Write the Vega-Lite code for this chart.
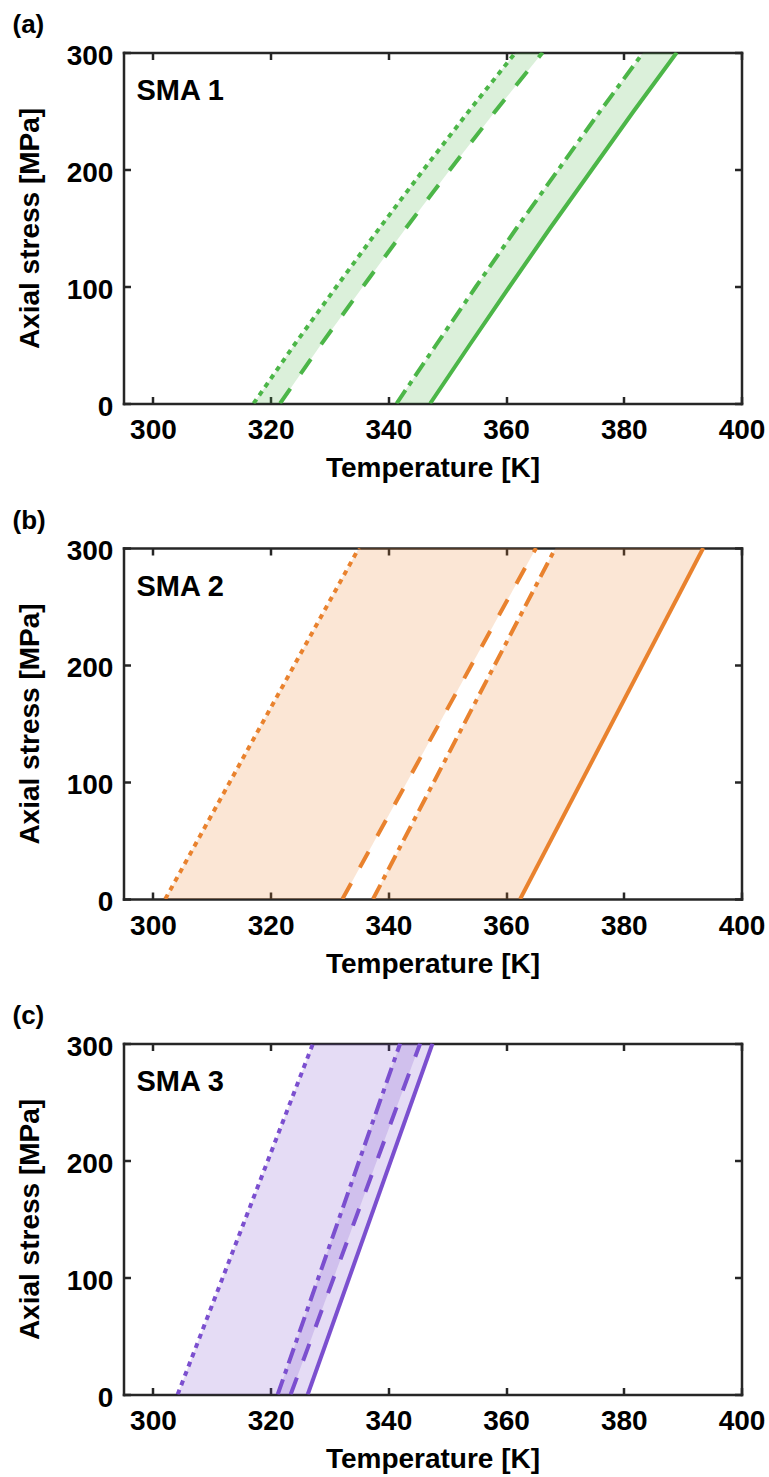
{
  "$schema": "https://vega.github.io/schema/vega-lite/v6.json",
  "background": "white",
  "padding": {"left": 12.5, "top": 11.5, "right": 5, "bottom": 5},
  "datasets": {
    "sma1": [
      {"stress": 0, "Mf": 317.1, "Ms": 321.6, "As": 341.4, "Af": 347.1},
      {"stress": 50, "Mf": 324.0, "Ms": 328.5, "As": 348.1, "Af": 353.8},
      {"stress": 100, "Mf": 331.2, "Ms": 335.7, "As": 354.9, "Af": 360.6},
      {"stress": 150, "Mf": 338.5, "Ms": 343.0, "As": 361.8, "Af": 367.5},
      {"stress": 200, "Mf": 346.0, "Ms": 350.5, "As": 368.9, "Af": 374.6},
      {"stress": 250, "Mf": 353.7, "Ms": 358.2, "As": 376.0, "Af": 381.7},
      {"stress": 300, "Mf": 361.6, "Ms": 366.2, "As": 383.3, "Af": 389.0}
    ],
    "sma2": [
      {"stress": 0, "Mf": 302.1, "Ms": 332.2, "As": 337.4, "Af": 362.4},
      {"stress": 300, "Mf": 335.0, "Ms": 365.1, "As": 368.4, "Af": 393.5}
    ],
    "sma3": [
      {"stress": 0, "Mf": 304.2, "Ms": 323.4, "As": 321.2, "Af": 326.3},
      {"stress": 300, "Mf": 327.2, "Ms": 345.4, "As": 342.0, "Af": 347.5}
    ]
  },
  "config": {
    "view": {"stroke": null},
    "font": "Liberation Sans",
    "concat": {"spacing": 24.5},
    "axis": {
      "grid": false,
      "domainColor": "#262626",
      "domainWidth": 2.5,
      "domainCap": "square",
      "tickColor": "#262626",
      "tickWidth": 2.5,
      "tickSize": -7,
      "labelFont": "Liberation Sans",
      "labelFontSize": 28,
      "labelFontWeight": "bold",
      "labelColor": "#000000",
      "labelFlush": false,
      "labelOverlap": false,
      "titleFont": "Liberation Sans",
      "titleFontSize": 28,
      "titleFontWeight": "bold",
      "titleColor": "#000000"
    },
    "title": {
      "anchor": "start",
      "frame": "group",
      "dx": -111,
      "fontSize": 26,
      "fontWeight": "bold",
      "font": "Liberation Sans",
      "color": "#000000",
      "offset": 4
    }
  },
  "vconcat": [
    {
      "width": 618, "height": 351,
      "title": {"text": "(a)"},
      "data": {"name": "sma1"},
      "resolve": {"axis": {"x": "independent", "y": "independent"}},
      "layer": [
        {"mark": {"type": "area", "orient": "horizontal", "color": "#4CB648", "opacity": 0.2, "clip": true},
         "encoding": {
           "y": {"field": "stress", "type": "quantitative", "scale": {"domain": [0, 300], "nice": false, "zero": false},
                 "axis": {"orient": "left", "values": [0, 100, 200, 300], "title": "Axial stress [MPa]", "labelPadding": 17.6, "labelOffset": 3.5, "titlePadding": 22}},
           "x": {"field": "Mf", "type": "quantitative", "scale": {"domain": [295, 400], "nice": false, "zero": false},
                 "axis": {"orient": "bottom", "values": [300, 320, 340, 360, 380, 400], "title": "Temperature [K]", "labelPadding": 20, "titlePadding": 10}},
           "x2": {"field": "Ms"}
         }},
        {"mark": {"type": "area", "orient": "horizontal", "color": "#4CB648", "opacity": 0.2, "clip": true},
         "encoding": {
           "y": {"field": "stress", "type": "quantitative", "scale": {"domain": [0, 300], "nice": false, "zero": false},
                 "axis": {"orient": "right", "values": [0, 100, 200, 300], "labels": false, "title": null}},
           "x": {"field": "As", "type": "quantitative", "scale": {"domain": [295, 400], "nice": false, "zero": false},
                 "axis": {"orient": "top", "values": [300, 320, 340, 360, 380, 400], "labels": false, "title": null}},
           "x2": {"field": "Af"}
         }},
        {"mark": {"type": "line", "color": "#4CB648", "strokeWidth": 4, "strokeCap": "butt", "strokeDash": [5, 5], "clip": true},
         "encoding": {
           "y": {"field": "stress", "type": "quantitative", "scale": {"domain": [0, 300], "nice": false, "zero": false}, "axis": null},
           "x": {"field": "Mf", "type": "quantitative", "scale": {"domain": [295, 400], "nice": false, "zero": false}, "axis": null},
           "order": {"field": "stress"}
         }},
        {"mark": {"type": "line", "color": "#4CB648", "strokeWidth": 4, "strokeCap": "butt", "strokeDash": [18, 18], "clip": true},
         "encoding": {
           "y": {"field": "stress", "type": "quantitative", "scale": {"domain": [0, 300], "nice": false, "zero": false}, "axis": null},
           "x": {"field": "Ms", "type": "quantitative", "scale": {"domain": [295, 400], "nice": false, "zero": false}, "axis": null},
           "order": {"field": "stress"}
         }},
        {"mark": {"type": "line", "color": "#4CB648", "strokeWidth": 4, "strokeCap": "butt", "strokeDash": [16, 6, 5, 6], "clip": true},
         "encoding": {
           "y": {"field": "stress", "type": "quantitative", "scale": {"domain": [0, 300], "nice": false, "zero": false}, "axis": null},
           "x": {"field": "As", "type": "quantitative", "scale": {"domain": [295, 400], "nice": false, "zero": false}, "axis": null},
           "order": {"field": "stress"}
         }},
        {"mark": {"type": "line", "color": "#4CB648", "strokeWidth": 4, "strokeCap": "butt", "clip": true},
         "encoding": {
           "y": {"field": "stress", "type": "quantitative", "scale": {"domain": [0, 300], "nice": false, "zero": false}, "axis": null},
           "x": {"field": "Af", "type": "quantitative", "scale": {"domain": [295, 400], "nice": false, "zero": false}, "axis": null},
           "order": {"field": "stress"}
         }},
        {"data": {"values": [{}]},
         "mark": {"type": "text", "text": "SMA 1", "align": "left", "baseline": "middle", "fontSize": 29, "fontWeight": "bold", "font": "Liberation Sans", "color": "#000000"},
         "encoding": {
           "x": {"datum": 297.2, "type": "quantitative", "scale": {"domain": [295, 400], "nice": false, "zero": false}, "axis": null},
           "y": {"datum": 267, "type": "quantitative", "scale": {"domain": [0, 300], "nice": false, "zero": false}, "axis": null}
         }}
      ]
    },
    {
      "width": 618, "height": 351,
      "title": {"text": "(b)"},
      "data": {"name": "sma2"},
      "resolve": {"axis": {"x": "independent", "y": "independent"}},
      "layer": [
        {"mark": {"type": "area", "orient": "horizontal", "color": "#E9822E", "opacity": 0.2, "clip": true},
         "encoding": {
           "y": {"field": "stress", "type": "quantitative", "scale": {"domain": [0, 300], "nice": false, "zero": false},
                 "axis": {"orient": "left", "values": [0, 100, 200, 300], "title": "Axial stress [MPa]", "labelPadding": 17.6, "labelOffset": 3.5, "titlePadding": 22}},
           "x": {"field": "Mf", "type": "quantitative", "scale": {"domain": [295, 400], "nice": false, "zero": false},
                 "axis": {"orient": "bottom", "values": [300, 320, 340, 360, 380, 400], "title": "Temperature [K]", "labelPadding": 20, "titlePadding": 10}},
           "x2": {"field": "Ms"}
         }},
        {"mark": {"type": "area", "orient": "horizontal", "color": "#E9822E", "opacity": 0.2, "clip": true},
         "encoding": {
           "y": {"field": "stress", "type": "quantitative", "scale": {"domain": [0, 300], "nice": false, "zero": false},
                 "axis": {"orient": "right", "values": [0, 100, 200, 300], "labels": false, "title": null}},
           "x": {"field": "As", "type": "quantitative", "scale": {"domain": [295, 400], "nice": false, "zero": false},
                 "axis": {"orient": "top", "values": [300, 320, 340, 360, 380, 400], "labels": false, "title": null}},
           "x2": {"field": "Af"}
         }},
        {"mark": {"type": "line", "color": "#E9822E", "strokeWidth": 4, "strokeCap": "butt", "strokeDash": [5, 5], "clip": true},
         "encoding": {
           "y": {"field": "stress", "type": "quantitative", "scale": {"domain": [0, 300], "nice": false, "zero": false}, "axis": null},
           "x": {"field": "Mf", "type": "quantitative", "scale": {"domain": [295, 400], "nice": false, "zero": false}, "axis": null},
           "order": {"field": "stress"}
         }},
        {"mark": {"type": "line", "color": "#E9822E", "strokeWidth": 4, "strokeCap": "butt", "strokeDash": [18, 18], "clip": true},
         "encoding": {
           "y": {"field": "stress", "type": "quantitative", "scale": {"domain": [0, 300], "nice": false, "zero": false}, "axis": null},
           "x": {"field": "Ms", "type": "quantitative", "scale": {"domain": [295, 400], "nice": false, "zero": false}, "axis": null},
           "order": {"field": "stress"}
         }},
        {"mark": {"type": "line", "color": "#E9822E", "strokeWidth": 4, "strokeCap": "butt", "strokeDash": [16, 6, 5, 6], "clip": true},
         "encoding": {
           "y": {"field": "stress", "type": "quantitative", "scale": {"domain": [0, 300], "nice": false, "zero": false}, "axis": null},
           "x": {"field": "As", "type": "quantitative", "scale": {"domain": [295, 400], "nice": false, "zero": false}, "axis": null},
           "order": {"field": "stress"}
         }},
        {"mark": {"type": "line", "color": "#E9822E", "strokeWidth": 4, "strokeCap": "butt", "clip": true},
         "encoding": {
           "y": {"field": "stress", "type": "quantitative", "scale": {"domain": [0, 300], "nice": false, "zero": false}, "axis": null},
           "x": {"field": "Af", "type": "quantitative", "scale": {"domain": [295, 400], "nice": false, "zero": false}, "axis": null},
           "order": {"field": "stress"}
         }},
        {"data": {"values": [{}]},
         "mark": {"type": "text", "text": "SMA 2", "align": "left", "baseline": "middle", "fontSize": 29, "fontWeight": "bold", "font": "Liberation Sans", "color": "#000000"},
         "encoding": {
           "x": {"datum": 297.2, "type": "quantitative", "scale": {"domain": [295, 400], "nice": false, "zero": false}, "axis": null},
           "y": {"datum": 267, "type": "quantitative", "scale": {"domain": [0, 300], "nice": false, "zero": false}, "axis": null}
         }}
      ]
    },
    {
      "width": 618, "height": 351,
      "title": {"text": "(c)"},
      "data": {"name": "sma3"},
      "resolve": {"axis": {"x": "independent", "y": "independent"}},
      "layer": [
        {"mark": {"type": "area", "orient": "horizontal", "color": "#7B4FCF", "opacity": 0.2, "clip": true},
         "encoding": {
           "y": {"field": "stress", "type": "quantitative", "scale": {"domain": [0, 300], "nice": false, "zero": false},
                 "axis": {"orient": "left", "values": [0, 100, 200, 300], "title": "Axial stress [MPa]", "labelPadding": 17.6, "labelOffset": 3.5, "titlePadding": 22}},
           "x": {"field": "Mf", "type": "quantitative", "scale": {"domain": [295, 400], "nice": false, "zero": false},
                 "axis": {"orient": "bottom", "values": [300, 320, 340, 360, 380, 400], "title": "Temperature [K]", "labelPadding": 20, "titlePadding": 10}},
           "x2": {"field": "Ms"}
         }},
        {"mark": {"type": "area", "orient": "horizontal", "color": "#7B4FCF", "opacity": 0.2, "clip": true},
         "encoding": {
           "y": {"field": "stress", "type": "quantitative", "scale": {"domain": [0, 300], "nice": false, "zero": false},
                 "axis": {"orient": "right", "values": [0, 100, 200, 300], "labels": false, "title": null}},
           "x": {"field": "As", "type": "quantitative", "scale": {"domain": [295, 400], "nice": false, "zero": false},
                 "axis": {"orient": "top", "values": [300, 320, 340, 360, 380, 400], "labels": false, "title": null}},
           "x2": {"field": "Af"}
         }},
        {"mark": {"type": "line", "color": "#7B4FCF", "strokeWidth": 4, "strokeCap": "butt", "strokeDash": [5, 5], "clip": true},
         "encoding": {
           "y": {"field": "stress", "type": "quantitative", "scale": {"domain": [0, 300], "nice": false, "zero": false}, "axis": null},
           "x": {"field": "Mf", "type": "quantitative", "scale": {"domain": [295, 400], "nice": false, "zero": false}, "axis": null},
           "order": {"field": "stress"}
         }},
        {"mark": {"type": "line", "color": "#7B4FCF", "strokeWidth": 4, "strokeCap": "butt", "strokeDash": [18, 18], "clip": true},
         "encoding": {
           "y": {"field": "stress", "type": "quantitative", "scale": {"domain": [0, 300], "nice": false, "zero": false}, "axis": null},
           "x": {"field": "Ms", "type": "quantitative", "scale": {"domain": [295, 400], "nice": false, "zero": false}, "axis": null},
           "order": {"field": "stress"}
         }},
        {"mark": {"type": "line", "color": "#7B4FCF", "strokeWidth": 4, "strokeCap": "butt", "strokeDash": [16, 6, 5, 6], "clip": true},
         "encoding": {
           "y": {"field": "stress", "type": "quantitative", "scale": {"domain": [0, 300], "nice": false, "zero": false}, "axis": null},
           "x": {"field": "As", "type": "quantitative", "scale": {"domain": [295, 400], "nice": false, "zero": false}, "axis": null},
           "order": {"field": "stress"}
         }},
        {"mark": {"type": "line", "color": "#7B4FCF", "strokeWidth": 4, "strokeCap": "butt", "clip": true},
         "encoding": {
           "y": {"field": "stress", "type": "quantitative", "scale": {"domain": [0, 300], "nice": false, "zero": false}, "axis": null},
           "x": {"field": "Af", "type": "quantitative", "scale": {"domain": [295, 400], "nice": false, "zero": false}, "axis": null},
           "order": {"field": "stress"}
         }},
        {"data": {"values": [{}]},
         "mark": {"type": "text", "text": "SMA 3", "align": "left", "baseline": "middle", "fontSize": 29, "fontWeight": "bold", "font": "Liberation Sans", "color": "#000000"},
         "encoding": {
           "x": {"datum": 297.2, "type": "quantitative", "scale": {"domain": [295, 400], "nice": false, "zero": false}, "axis": null},
           "y": {"datum": 267, "type": "quantitative", "scale": {"domain": [0, 300], "nice": false, "zero": false}, "axis": null}
         }}
      ]
    }
  ]
}
